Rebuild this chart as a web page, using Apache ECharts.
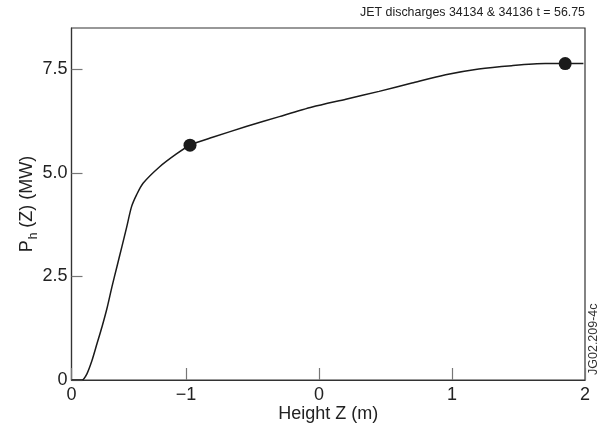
<!DOCTYPE html>
<html>
<head>
<meta charset="utf-8">
<script src="https://cdn.jsdelivr.net/npm/echarts@6/dist/echarts.min.js"></script>
<style>
  html, body { margin: 0; padding: 0; background: #fff; }
  #chart { width: 600px; height: 436px; }
</style>
</head>
<body>
<div id="chart"></div>
<script>
// 横轴位置（轴内部坐标：左端 -1.86 标为 "0"，之后 -1、0、1、2）
const heightZ = [-1.861, -1.782, -1.745, -1.707, -1.669, -1.632, -1.595, -1.557, -1.520,
  -1.482, -1.447, -1.410, -1.372, -1.323, -1.198, -1.072, -0.970, -0.800, -0.548,
  -0.298, -0.051, 0.202, 0.452, 0.699, 0.952, 1.201, 1.449, 1.701, 1.851, 1.988];
// 沉积功率 P_h(Z) (MW)
const powerMW = [0, 0, 0.15, 0.47, 0.88, 1.28, 1.72, 2.25, 2.73,
  3.22, 3.68, 4.18, 4.47, 4.75, 5.15, 5.46, 5.67, 5.86, 6.12,
  6.36, 6.59, 6.78, 6.97, 7.17, 7.37, 7.51, 7.59, 7.64, 7.64, 7.64];
// 两个标记点
const markerZ = [-0.970, 1.851];
const markerP = [5.67, 7.64];
// 刻度
const xTickValues = [-1.861, -1, 0, 1, 2];
const xTickLabels = ['0', '\u22121', '0', '1', '2'];
const yTickValues = [0, 2.5, 5, 7.5];

const FONT = '"Liberation Sans", Arial, sans-serif';
const INK = '#1a1a1a';

const chart = echarts.init(document.getElementById('chart'), null, { renderer: 'canvas' });

const option = {
  animation: false,
  grid: {
    left: 71.5,
    right: 15,
    top: 28,
    bottom: 56,
    show: true,
    borderColor: '#333',
    borderWidth: 1.2
  },
  xAxis: {
    type: 'value',
    min: -1.861,
    max: 2,
    name: 'Height Z (m)',
    nameLocation: 'middle',
    nameGap: 25,
    nameMoveOverlap: false,
    nameTextStyle: { fontFamily: FONT, fontSize: 18, color: '#222' },
    axisLine: { show: true, onZero: false, lineStyle: { color: '#333', width: 1.2 } },
    axisTick: {
      show: true,
      inside: true,
      length: 12,
      customValues: xTickValues,
      lineStyle: { color: '#777', width: 1.2 }
    },
    axisLabel: {
      customValues: xTickValues,
      margin: 6,
      fontFamily: FONT,
      fontSize: 18,
      color: '#222',
      formatter: function (v) {
        const i = xTickValues.findIndex(t => Math.abs(t - v) < 1e-6);
        return i >= 0 ? xTickLabels[i] : '';
      }
    },
    splitLine: { show: false }
  },
  yAxis: {
    type: 'value',
    min: 0,
    max: 8.5,
    name: '{a|P}{s|h}{a| (Z) (MW)}',
    nameLocation: 'middle',
    nameRotate: 90,
    nameGap: 32,
    nameMoveOverlap: false,
    nameTextStyle: {
      fontFamily: FONT,
      color: '#222',
      rich: {
        a: { fontFamily: FONT, fontSize: 18, color: '#222', lineHeight: 24, verticalAlign: 'middle' },
        s: { fontFamily: FONT, fontSize: 12, color: '#222', lineHeight: 24, verticalAlign: 'bottom', padding: [8, 0, 0, 1] }
      }
    },
    axisLine: { show: true, onZero: false, lineStyle: { color: '#333', width: 1.2 } },
    axisTick: {
      show: true,
      inside: true,
      length: 11,
      customValues: yTickValues,
      lineStyle: { color: '#777', width: 1.2 }
    },
    axisLabel: {
      customValues: yTickValues,
      margin: 4,
      fontFamily: FONT,
      fontSize: 18,
      color: '#222',
      formatter: function (v) {
        return v === 0 ? '0' : v.toFixed(1);
      }
    },
    splitLine: { show: false }
  },
  series: [
    {
      type: 'line',
      data: heightZ.map((z, i) => [z, powerMW[i]]),
      smooth: 0.25,
      symbol: 'none',
      lineStyle: { color: INK, width: 1.5 },
      z: 2
    },
    {
      type: 'scatter',
      data: markerZ.map((z, i) => [z, markerP[i]]),
      symbol: 'circle',
      symbolSize: 13,
      itemStyle: { color: INK, opacity: 1 },
      z: 3
    }
  ],
  graphic: [
    {
      type: 'text',
      right: 15,
      top: 7,
      style: {
        text: 'JET discharges 34134 & 34136 t = 56.75',
        fontFamily: FONT,
        fontSize: 12.4,
        fill: '#222'
      }
    },
    {
      type: 'text',
      x: 594,
      y: 375,
      rotation: Math.PI / 2,
      style: {
        text: 'JG02.209-4c',
        fontFamily: FONT,
        fontSize: 12.5,
        fill: '#333',
        textAlign: 'left',
        textVerticalAlign: 'middle'
      }
    }
  ]
};

chart.setOption(option);
</script>
</body>
</html>
